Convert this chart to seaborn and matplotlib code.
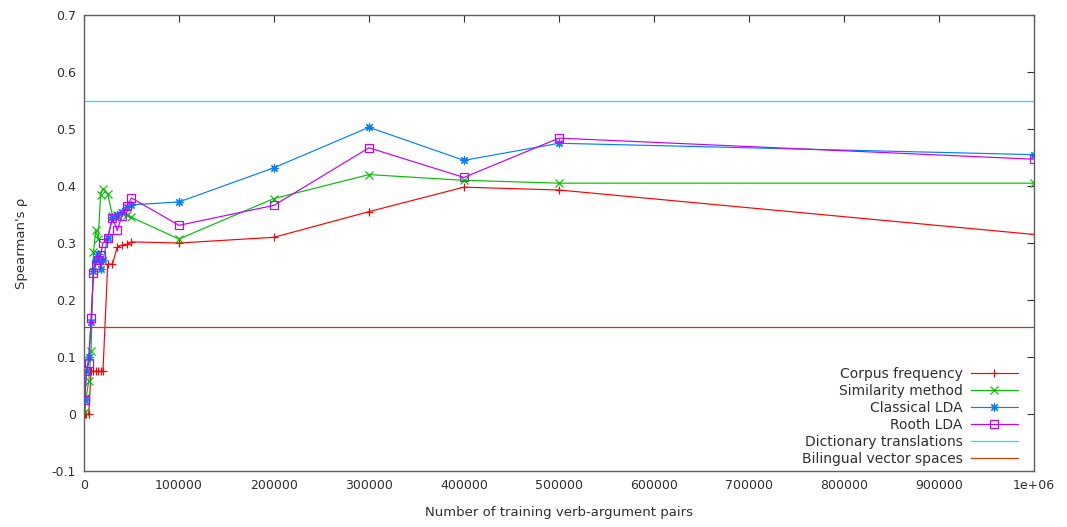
import matplotlib
matplotlib.use("Agg")
import matplotlib.pyplot as plt
import seaborn as sns
import pandas as pd

# ---- data ----
x_pairs = [1000, 2500, 5000, 7500, 10000, 12500, 15000, 17500, 20000, 25000,
           30000, 35000, 40000, 45000, 50000, 100000, 200000, 300000, 400000,
           500000, 1000000]
corpus_freq = [0.0, 0.0, 0.0, 0.075, 0.075, 0.075, 0.075, 0.075, 0.075, 0.263,
               0.263, 0.293, 0.296, 0.298, 0.302, 0.300, 0.310, 0.355, 0.398,
               0.393, 0.315]
similarity = [0.003, 0.03, 0.058, 0.11, 0.285, 0.322, 0.307, 0.385, 0.395, 0.386,
              0.348, 0.350, 0.352, 0.350, 0.345, 0.307, 0.378, 0.420, 0.410,
              0.405, 0.405]
classical_lda = [0.025, 0.075, 0.100, 0.161, 0.250, 0.270, 0.280, 0.255, 0.270, 0.309,
                 0.346, 0.350, 0.355, 0.363, 0.367, 0.372, 0.432, 0.503, 0.445,
                 0.475, 0.455]
rooth_lda = [0.025, 0.075, 0.089, 0.168, 0.247, 0.262, 0.270, 0.279, 0.300, 0.309,
             0.344, 0.322, 0.348, 0.365, 0.379, 0.331, 0.366, 0.467, 0.415,
             0.484, 0.447]
dict_translations = 0.55
bilingual_vs = 0.152

series_names = ["Corpus frequency", "Similarity method", "Classical LDA", "Rooth LDA"]
series_vals = [corpus_freq, similarity, classical_lda, rooth_lda]
y_ticks = [-0.1, 0, 0.1, 0.2, 0.3, 0.4, 0.5, 0.6, 0.7]
y_tick_labels = ["-0.1", "0", "0.1", "0.2", "0.3", "0.4", "0.5", "0.6", "0.7"]
x_ticks = [0, 100000, 200000, 300000, 400000, 500000, 600000, 700000, 800000, 900000, 1000000]
x_tick_labels = ["0", "100000", "200000", "300000", "400000", "500000", "600000",
                 "700000", "800000", "900000", "1e+06"]

# ---- style ----
sns.set_style("white")
plt.rcParams['font.family'] = ['DejaVu Sans']

colors = ["#ff0000", "#00c000", "#0080ff", "#c000ff"]
markers = ["+", "x", (8, 2, 0), "s"]
msizes = [6, 5.5, 6, 5.5]

fig = plt.figure(figsize=(10.67, 5.27), dpi=100)
ax = fig.add_axes([0.0787, 0.1063, 0.8903, 0.8652])

for name, vals, c, m, ms in zip(series_names, series_vals, colors, markers, msizes):
    df = pd.DataFrame({"x": x_pairs, "y": vals})
    kw = dict(marker=m, markersize=ms, color=c, linewidth=0.85,
              markeredgecolor=c, markeredgewidth=0.85)
    if m == "s":
        kw.update(markerfacecolor="none")
    sns.lineplot(data=df, x="x", y="y", ax=ax, label=name, **kw)

ax.axhline(dict_translations, color="#00eeee", linewidth=0.9, label="Dictionary translations")
ax.axhline(bilingual_vs, color="#c04000", linewidth=0.9, label="Bilingual vector spaces")

ax.set_xlim(0, 1000000)
ax.set_ylim(-0.1, 0.7)
ax.set_xticks(x_ticks)
ax.set_xticklabels(x_tick_labels)
ax.set_yticks(y_ticks)
ax.set_yticklabels(y_tick_labels)
ax.tick_params(direction="in", length=5, width=0.8, top=True, right=True,
               labelsize=9, colors="#303030", pad=6)
for lbl in ax.get_xticklabels() + ax.get_yticklabels():
    lbl.set_color("#303030")
for sp in ax.spines.values():
    sp.set_color("#606060")
    sp.set_linewidth(1.0)

ax.set_xlabel("Number of training verb-argument pairs", fontsize=9.5, color="#303030", labelpad=10)
ax.set_ylabel("Spearman's ρ", fontsize=9.5, color="#303030", labelpad=17)

leg = ax.legend(loc="lower right", bbox_to_anchor=(0.992, -0.007), frameon=False,
                markerfirst=False, numpoints=1, fontsize=10, handlelength=3.4,
                labelspacing=0.22, handletextpad=0.6, borderaxespad=0.2)
for t in leg.get_texts():
    t.set_color("#303030")
    t.set_ha("right")

fig.savefig("out.png", dpi=100)
